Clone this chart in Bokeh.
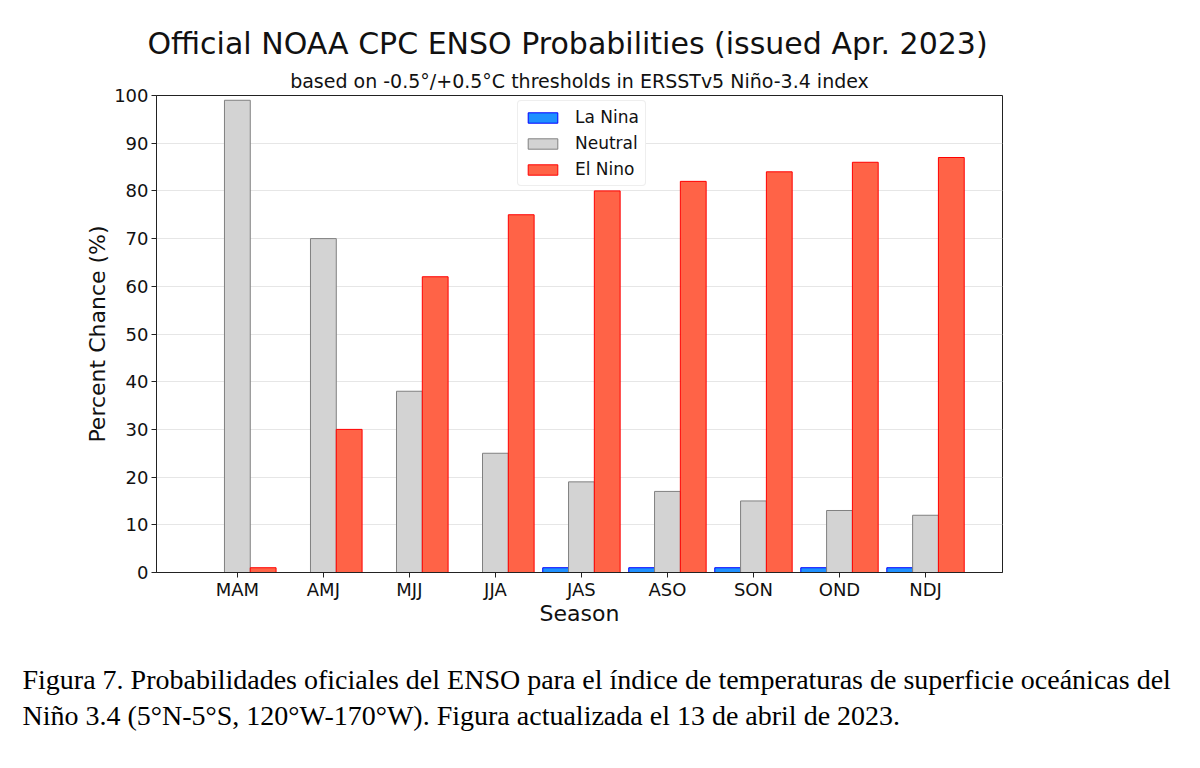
import numpy as np
from bokeh.plotting import figure
from bokeh.models import Title, FixedTicker, ColumnDataSource
from bokeh.embed import file_html
from bokeh.resources import INLINE

# ENSO outlook probabilities (%) by overlapping 3-month season
seasons = ["MAM", "AMJ", "MJJ", "JJA", "JAS", "ASO", "SON", "OND", "NDJ"]
la_nina = [0, 0, 0, 0, 1, 1, 1, 1, 1]
neutral = [99, 70, 38, 25, 19, 17, 15, 13, 12]
el_nino = [1, 30, 62, 75, 80, 82, 84, 86, 87]
y_ticks = [0, 10, 20, 30, 40, 50, 60, 70, 80, 90, 100]

FONT = "DejaVu Sans"
BAR_W = 0.3
idx = np.arange(len(seasons))

p = figure(
    width=1200, height=768,
    x_range=(-0.94, 8.895), y_range=(0, 100),
    output_backend="svg", toolbar_location=None, title=None,
    min_border_left=156, min_border_right=198,
    min_border_top=95, min_border_bottom=196,
)
p.background_fill_color = "white"
p.border_fill_color = "white"
p.outline_line_color = "#222222"
p.outline_line_width = 1

series = [
    ("La Nina", la_nina, -BAR_W, "#1E90FF", "#0000FF"),
    ("Neutral", neutral, 0.0, "#D3D3D3", "#808080"),
    ("El Nino", el_nino, BAR_W, "#FF6347", "#FF0000"),
]
for name, vals, shift, fill, edge in series:
    src = ColumnDataSource(dict(x=idx + shift, top=vals))
    p.vbar(x="x", top="top", bottom=0, width=BAR_W, source=src,
           fill_color=fill, line_color=edge, line_width=1,
           legend_label=name)

# axes
p.xaxis.ticker = FixedTicker(ticks=list(idx))
p.xaxis.major_label_overrides = {int(i): s for i, s in zip(idx, seasons)}
p.yaxis.ticker = FixedTicker(ticks=y_ticks)
for ax in (p.xaxis[0], p.yaxis[0]):
    ax.major_label_text_font = FONT
    ax.major_label_text_font_size = "18px"
    ax.major_label_text_color = "#111111"
    ax.axis_label_text_font = FONT
    ax.axis_label_text_font_style = "normal"
    ax.axis_label_text_color = "#111111"
    ax.axis_label_text_font_size = "22px"
    ax.axis_line_color = "#222222"
    ax.major_tick_line_color = "#222222"
    ax.major_tick_in = 0
    ax.major_tick_out = 5
    ax.minor_tick_line_color = None
p.xaxis.axis_label = "Season"
p.yaxis.axis_label = "Percent Chance (%)"
p.xaxis.major_label_standoff = 1
p.yaxis.major_label_standoff = 3
p.xaxis.axis_label_standoff = -2
p.yaxis.axis_label_standoff = 1

p.xgrid.grid_line_color = None
p.ygrid.grid_line_color = "#E6E6E6"
p.ygrid.grid_line_width = 1

# legend
leg = p.legend[0]
leg.location = (361, 386)
leg.label_text_font = FONT
leg.label_text_font_size = "17px"
leg.label_text_color = "#111111"
leg.glyph_width = 37
leg.glyph_height = 13
leg.label_height = 20
leg.label_standoff = 14
leg.spacing = 6
leg.padding = 6
leg.margin = 0
leg.border_line_color = "#DDDDDD"
leg.border_radius = 4
leg.background_fill_alpha = 1.0

# titles above the frame (last added sits outermost)
p.add_layout(Title(text="based on -0.5°/+0.5°C thresholds in ERSSTv5 Niño-3.4 index",
                   align="center", text_font=FONT, text_font_size="19px",
                   text_font_style="normal", text_color="#111111", standoff=7), "above")
p.add_layout(Title(text="Official NOAA CPC ENSO Probabilities (issued Apr. 2023)",
                   align="left", offset=-9, text_font=FONT, text_font_size="30px",
                   text_font_style="normal", text_color="#111111", standoff=8), "above")

# two-line caption under the chart
cap1 = "Figura 7. Probabilidades oficiales del ENSO para el índice de temperaturas de superficie oceánicas del"
cap2 = "Niño 3.4 (5°N-5°S, 120°W-170°W). Figura actualizada el 13 de abril de 2023."
p.add_layout(Title(text=cap1 + "\n" + cap2, align="left", offset=-134,
                   text_font="Liberation Serif", text_font_size="28px",
                   text_font_style="normal", text_color="#000000",
                   text_line_height=1.18, standoff=66), "below")

open("out.html", "w").write(file_html(p, INLINE))
